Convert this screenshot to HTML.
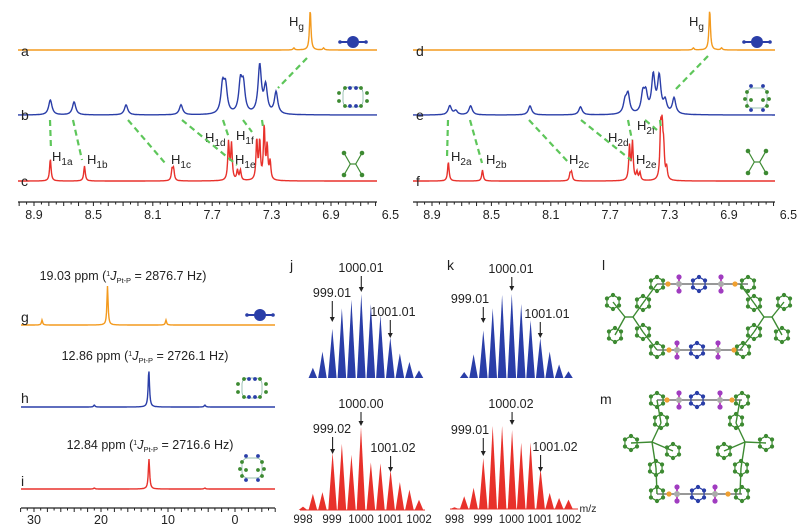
<!DOCTYPE html>
<html><head><meta charset="utf-8">
<style>
html,body{margin:0;padding:0;background:#fff;}
svg{display:block;font-family:"Liberation Sans",sans-serif;}
</style></head>
<body>
<svg id="fig" width="806" height="528" viewBox="0 0 806 528" xmlns="http://www.w3.org/2000/svg">
<g id="layer"></g>
</svg>
<script>
// ---------- 1H NMR data (ppm, peak height px) ----------
const aPpm=[7.04,7.15,6.95];            const aH=[40,2,2];
const bPpm=[8.79,8.63,8.28,7.91,7.63,7.61,7.51,7.49,7.38,7.34,7.27];
const bH=[15,13,10,10,28,26,30,27,48,27,22];
const cPpm=[8.79,8.56,7.97,7.96,7.59,7.57,7.53,7.51,7.40,7.38,7.35,7.33,7.31];
const cH=[22,15,11,11,38,36,10,10,40,38,53,33,18];
const dPpm=[7.03,7.14,6.95];            const dH=[40,2,2];
const ePpm=[8.78,8.74,8.64,8.24,7.90,7.60,7.58,7.48,7.46,7.41,7.37,7.33,7.27];
const eH=[9,4,9,9,8,12,19,19,18,37,36,12,16];
const fPpm=[8.79,8.56,7.97,7.96,7.57,7.55,7.52,7.50,7.36,7.35,7.34,7.32];
const fH=[19,11,7,8,34,38,8,8,50,45,28,12];
const nmrTicks=[8.9,8.5,8.1,7.7,7.3,6.9,6.5];
// ---------- 31P NMR data ----------
const gPpm=[19.03,28.8,10.3];  const gH=[39,5,5];
const hPpm=[12.86,21,4.5];     const hH=[37,2,2];
const iPpm=[12.84,21,4.5];     const iH=[30,1,1];
const pTicks=[30,20,10,0];
// ---------- ESI-MS data (m/z, relative intensity %) ----------
const jTopMz=[998.34,998.67,999.01,999.34,999.67,1000.01,1000.34,1000.67,1001.01,1001.34,1001.67,1002.0];
const jTopI=[12,31,58,82,92,99,87,74,48,29,19,9];
const jBotMz=[998.0,998.34,998.67,999.02,999.34,999.67,1000.0,1000.34,1000.67,1001.02,1001.34,1001.67,1002.0];
const jBotI=[4,19,21,68,78,65,98,56,55,47,33,24,12];
const kTopMz=[998.34,998.67,999.01,999.34,999.67,1000.01,1000.34,1000.67,1001.01,1001.34,1001.67,1002.0];
const kTopI=[7,28,56,82,98,99,87,68,47,31,16,8];
const kBotMz=[998.0,998.34,998.67,999.01,999.34,999.67,1000.02,1000.34,1000.67,1001.02,1001.34,1001.67,1002.0];
const kBotI=[2,15,25,60,98,98,93,78,78,47,19,13,11];
const msTicks=[998,999,1000,1001,1002];

const NS="http://www.w3.org/2000/svg";
const L=document.getElementById('layer');
function mk(tag,attrs,parent){const e=document.createElementNS(NS,tag);for(const k in attrs)e.setAttribute(k,attrs[k]);(parent||L).appendChild(e);return e;}
function txt(x,y,s,size,anchor,parent){const t=mk('text',{x:x,y:y,'font-size':size,'text-anchor':anchor||'middle',fill:'#222'},parent);t.textContent=s;return t;}

const OR='#f39a1e',BL='#2a3ea8',RD='#e8312b',GR='#3d8a32',DG='#5ec65a';

// axis functions
const xL=p=>34+(8.9-p)*148.5;
const xR=p=>432+(8.9-p)*148.5;
const xP=p=>235-p*6.7;
const xJ=m=>332+(m-999)*29;
const xK=m=>483+(m-999)*28.5;
const yMS=(base,i)=>base-i*0.85;

function spectrum(xs,base,ppm,h,w,color,x0,x1,name){
  const cs=ppm.map(xs);
  let d='';
  for(let x=x0;x<=x1;x+=0.5){
    let y=0;for(let i=0;i<cs.length;i++){const dx=x-cs[i];y+=h[i]*w*w/(dx*dx+w*w);}
    d+=(d?'L':'M')+x.toFixed(1)+','+(base-y).toFixed(1);
  }
  const p=mk('path',{d:d,fill:'none',stroke:color,'stroke-width':1.4});
  
  
  return p;
}
function nmrAxis(xs,x0,x1,y,name){
  const g=mk('g',{});
  
  
  mk('line',{x1:x0,y1:y,x2:x1,y2:y,stroke:'#222','stroke-width':1.3},g);
  for(let k=0;k<=60;k++){const p=9.05-k*0.05;const x=xs(p);if(x<x0||x>x1)continue;
    const major=Math.abs(Math.round(p*10)-p*10)<0.01;
    mk('line',{x1:x,y1:y,x2:x,y2:y+(major?4:2.5),stroke:'#222','stroke-width':1},g);}
  nmrTicks.forEach(t=>{const l=txt(xs(t),y+17,t.toFixed(1),12.5,'middle',g);
    
    });
}
function dash(x1,y1,x2,y2){const l=mk('line',{x1:x1,y1:y1,x2:x2,y2:y2,stroke:DG,'stroke-width':2.2,'stroke-dasharray':'6,4'});
  
  }
function hlab(x,y,sub){const t=mk('text',{x:x,y:y,'font-size':13,fill:'#222','text-anchor':'start'});
  
  
  t.appendChild(document.createTextNode('H'));
  const s=mk('tspan',{dy:4,'font-size':10},t);s.textContent=sub;}
function letter(x,y,s){const t=txt(x,y,s,14,'start');
  
  }

// ---- icons ----
function dumbbell(cx,cy){const g=mk('g',{});
  
  
  mk('line',{x1:cx-13,y1:cy,x2:cx+13,y2:cy,stroke:BL,'stroke-width':2},g);
  mk('circle',{cx:cx,cy:cy,r:6,fill:BL},g);
  mk('circle',{cx:cx-13,cy:cy,r:1.8,fill:BL},g);mk('circle',{cx:cx+13,cy:cy,r:1.8,fill:BL},g);}
function crossIcon(cx,cy){const g=mk('g',{});
  
  
  const pts=[[-9,-11],[9,-11],[-9,11],[9,11]];
  pts.forEach(p=>{mk('line',{x1:cx+p[0]*0.3,y1:cy,x2:cx+p[0],y2:cy+p[1],stroke:GR,'stroke-width':1.2},g);
    mk('circle',{cx:cx+p[0],cy:cy+p[1],r:2.3,fill:GR},g);});
  mk('line',{x1:cx-3,y1:cy,x2:cx+3,y2:cy,stroke:GR,'stroke-width':1.2},g);}
function cageIcon(cx,cy,vert){const g=mk('g',{});
  
  
  const pts=vert?[[-6,-12,BL],[6,-12,BL],[-10,-6,GR],[10,-6,GR],[-12,1,GR],[12,1,GR],[-6,2,GR],[6,2,GR],[-10,8,GR],[10,8,GR],[-6,12,BL],[6,12,BL]]
    :[[-8,-9,GR],[-3,-9,BL],[3,-9,BL],[8,-9,GR],[-14,-4,GR],[14,-4,GR],[-14,4,GR],[14,4,GR],[-8,9,GR],[-3,9,BL],[3,9,BL],[8,9,GR]];
  mk('rect',{x:cx-10,y:cy-10,width:20,height:20,fill:'none',stroke:'#7a9',"stroke-width":0.7,rx:6},g);
  pts.forEach(p=>mk('circle',{cx:cx+p[0],cy:cy+p[1],r:1.9,fill:p[2]},g));}

// ================= Panels a-c =================
spectrum(xL,50,aPpm,aH,0.9,OR,18,377,'spectrum-a');
spectrum(xL,115,bPpm,bH,2.0,BL,18,377,'spectrum-b');
spectrum(xL,181,cPpm,cH,0.9,RD,18,377,'spectrum-c');
nmrAxis(xL,18,377,202,'x-axis-left');
letter(21,56,'a');letter(21,120,'b');letter(21,186,'c');
hlab(289,26,'g');
hlab(52,161,'1a');hlab(87,164,'1b');hlab(171,164,'1c');hlab(205,142,'1d');hlab(236,140,'1f');hlab(235,164,'1e');
dash(50,120,51,150);dash(73,120,82,160);dash(128,120,165,163);dash(182,120,237,165);dash(223,120,229,138);dash(243,120,252,132);dash(262,120,263,127);dash(307,58,278,88);
dumbbell(353,42);cageIcon(353,97,false);crossIcon(353,164);

// ================= Panels d-f =================
spectrum(xR,50,dPpm,dH,0.9,OR,413,775,'spectrum-d');
spectrum(xR,115,ePpm,eH,2.0,BL,413,775,'spectrum-e');
spectrum(xR,181,fPpm,fH,0.9,RD,413,775,'spectrum-f');
nmrAxis(xR,413,775,202,'x-axis-right');
letter(416,56,'d');letter(416,120,'e');letter(416,186,'f');
hlab(689,26,'g');
hlab(451,161,'2a');hlab(486,164,'2b');hlab(569,164,'2c');hlab(608,142,'2d');hlab(637,130,'2f');hlab(636,164,'2e');
dash(448,120,447,158);dash(470,120,482,163);dash(529,120,569,163);dash(581,120,631,160);dash(628,120,632,140);dash(645,120,657,130);dash(660,120,661,128);dash(708,56,675,90);
dumbbell(757,42);cageIcon(757,98,true);crossIcon(757,162);

// ================= Panels g-i (31P) =================
spectrum(xP,325,gPpm,gH,0.7,OR,21,275,'spectrum-g');
spectrum(xP,407,hPpm,hH,0.8,BL,21,275,'spectrum-h');
spectrum(xP,489,iPpm,iH,0.8,RD,21,275,'spectrum-i');
(function(){const g=mk('g',{});
  
  
  mk('line',{x1:21,y1:508,x2:275,y2:508,stroke:'#222','stroke-width':1.3},g);
  for(let p=32;p>=-6;p-=1){const x=xP(p);mk('line',{x1:x,y1:508,x2:x,y2:508+(p%2===0?4:2.5),stroke:'#222','stroke-width':1},g);}
  pTicks.forEach(t=>{const l=txt(xP(t),524,String(t),12.5,'middle',g);
    
    });})();
function jlab(cx,y,ppm,J){const t=mk('text',{x:cx,y:y,'font-size':12.5,'text-anchor':'middle',fill:'#222'});
  
  
  t.appendChild(document.createTextNode(ppm+' ppm ('));
  const s1=mk('tspan',{dy:-4,'font-size':7},t);s1.textContent='1';
  const s2=mk('tspan',{dy:4,'font-style':'italic'},t);s2.textContent='J';
  const s3=mk('tspan',{dy:3,'font-size':7.5},t);s3.textContent='Pt-P';
  const s4=mk('tspan',{dy:-3},t);s4.textContent=' = '+J+' Hz)';}
jlab(123,280,'19.03','2876.7');jlab(145,360,'12.86','2726.1');jlab(150,449,'12.84','2716.6');
letter(21,322,'g');letter(21,403,'h');letter(21,486,'i');
dumbbell(260,315);cageIcon(252,388,false);cageIcon(252,468,true);

// ================= MS panels j,k =================
function bars(xs,base,mz,I,color,name){mz.forEach((m,i)=>{const x=xs(m),y=yMS(base,I[i]);
  const p=mk('path',{d:`M${x-4.3},${base}L${x},${y}L${x+4.3},${base}Z`,fill:color});
  
  });}
bars(xJ,378,jTopMz,jTopI,BL,'ms-peak-j-calc');
bars(xJ,510,jBotMz,jBotI,RD,'ms-peak-j-exp');
bars(xK,378,kTopMz,kTopI,BL,'ms-peak-k-calc');
bars(xK,509,kBotMz,kBotI,RD,'ms-peak-k-exp');
mk('line',{x1:300,y1:510,x2:425,y2:510,stroke:RD,'stroke-width':1});
mk('line',{x1:450,y1:509,x2:578,y2:509,stroke:RD,'stroke-width':1});
msTicks.forEach(t=>{let l=txt(xJ(t),523,String(t),11.5);
  
  
  l=txt(xK(t),523,String(t),11.5);
  
  });
const mzl=txt(588,512,'m/z',10.5);


function arrowLab(x,lx,ly,s,y1,y2){const t=txt(lx,ly,s,12.5);
  
  
  mk('line',{x1:x,y1:y1,x2:x,y2:y2-4,stroke:'#222','stroke-width':1.1});
  mk('path',{d:`M${x-2.5},${y2-5}L${x},${y2}L${x+2.5},${y2-5}Z`,fill:'#222'});}
arrowLab(xJ(1000.01),361,272,'1000.01',276,292);
arrowLab(xJ(999.01),332,297,'999.01',301,322);
arrowLab(xJ(1001.01),393,316,'1001.01',320,338);
arrowLab(xJ(1000.0),361,408,'1000.00',412,426);
arrowLab(xJ(999.02),332,433,'999.02',437,454);
arrowLab(xJ(1001.02),393,452,'1001.02',456,472);
arrowLab(xK(1000.01),511,273,'1000.01',277,291);
arrowLab(xK(999.01),470,303,'999.01',307,323);
arrowLab(xK(1001.01),547,318,'1001.01',322,338);
arrowLab(xK(1000.02),511,408,'1000.02',412,425);
arrowLab(xK(999.01),470,434,'999.01',438,456);
arrowLab(xK(1001.02),555,451,'1001.02',455,472);
letter(290,270,'j');letter(447,270,'k');letter(602,270,'l');letter(600,404,'m');

// ================= crystal structures l, m =================
function ring(cx,cy,col,r,g){const pts=[];for(let k=0;k<6;k++){const a=Math.PI/6+k*Math.PI/3;pts.push([cx+r*Math.cos(a),cy+r*Math.sin(a)]);}
  mk('polygon',{points:pts.map(p=>p.join(',')).join(' '),fill:'none',stroke:col,'stroke-width':1.2},g);
  pts.forEach(p=>mk('circle',{cx:p[0],cy:p[1],r:2.1,fill:col},g));}
function bond(x1,y1,x2,y2,col,g){mk('line',{x1:x1,y1:y1,x2:x2,y2:y2,stroke:col,'stroke-width':1.4},g);}
function ptUnit(x,y,g){bond(x,y-7,x,y+7,'#a0a',g);mk('circle',{cx:x,cy:y,r:3,fill:'#aaa'},g);
  mk('circle',{cx:x,cy:y-7,r:2.6,fill:'#a03cc0'},g);mk('circle',{cx:x,cy:y+7,r:2.6,fill:'#a03cc0'},g);}
function chain(y,g,xs){
  bond(xs[0],y,xs[6],y,'#777',g);
  ring(xs[0],y,GR,7,g);ring(xs[3],y,BL,7,g);ring(xs[6],y,GR,7,g);
  mk('circle',{cx:xs[1],cy:y,r:2.6,fill:'#f0a030'},g);mk('circle',{cx:xs[5],cy:y,r:2.6,fill:'#f0a030'},g);
  ptUnit(xs[2],y,g);ptUnit(xs[4],y,g);}
(function(){const g=mk('g',{});
  
  
  chain(284,g,[657,668,679,699,721,735,748]);
  chain(350,g,[657,669,677,697,718,734,743]);
  [[1,0],[-1,1397]].forEach(([s,o])=>{const X=x=>s*x+o;
    bond(X(657),284,X(643),303,GR,g);bond(X(657),350,X(643),332,GR,g);
    bond(X(643),303,X(633),317,GR,g);bond(X(643),332,X(633),317,GR,g);
    bond(X(633),317,X(625),317,GR,g);
    ring(X(643),303,GR,7,g);ring(X(643),332,GR,7,g);
    ring(X(613),302,GR,7,g);ring(X(615),335,GR,7,g);
    bond(X(625),317,X(613),302,GR,g);bond(X(625),317,X(615),335,GR,g);});})();
(function(){const g=mk('g',{});
  
  
  chain(400,g,[657,667,679,697,720,732,742]);
  chain(494,g,[657,669,677,698,715,728,742]);
  [[1,0],[-1,1397]].forEach(([s,o])=>{const X=x=>s*x+o;
    bond(X(657),400,X(661),423,GR,g);bond(X(661),423,X(652),442,GR,g);
    bond(X(652),442,X(656),468,GR,g);bond(X(656),468,X(657),494,GR,g);
    ring(X(661),421,GR,7,g);ring(X(656),468,GR,7,g);
    ring(X(631),443,GR,7,g);ring(X(673),451,GR,7,g);
    bond(X(652),442,X(631),443,GR,g);bond(X(652),442,X(673),451,GR,g);});})();
</script>
</body></html>
